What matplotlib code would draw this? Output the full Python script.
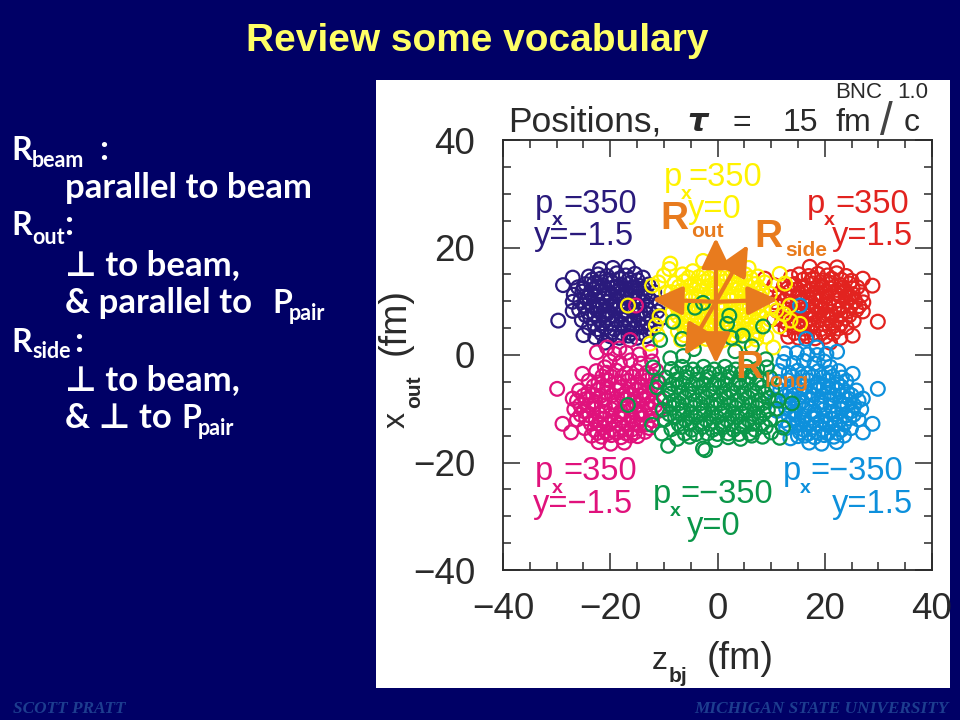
import matplotlib
matplotlib.use("Agg")
import matplotlib.pyplot as plt
from matplotlib.patches import Rectangle

W, H = 960, 720
NAVY_BG = "#000066"
INK = "#2a2a2a"
ORANGE = "#E87B1E"

c_navy, c_red, c_pink, c_cyan, c_yellow, c_green = "#2A1A7C", "#E2231F", "#E0127C", "#0D90DC", "#FFF200", "#0A9648"

navy_pts = [(-28.8,13),(-27,14.4),(-29.7,6.4),(-27,8.2),(-25,3.7),(-21.9,16),(-19.5,16.2),(-16.7,16.4),(-13.9,14.4),(-21,2.3),
 (-24,14.6),(-22.3,15),(-20.6,14.7),(-18.8,15.2),(-17.1,14.8),(-15.4,15.1),
 (-26,12.6),(-24.6,13.2),(-23,13.4),(-21.4,13),(-19.7,13.5),(-18,13.1),(-16.3,13.4),(-14.6,12.9),(-12.9,13.1),
 (-26.8,11.2),(-25.2,11.8),(-23.6,11.4),(-22,11.9),(-20.3,11.5),(-18.6,11.9),(-16.9,11.6),(-15.2,11.9),(-13.5,11.4),(-11.8,11.7),
 (-27,9.9),(-25.6,10.1),(-23.9,9.7),(-22.4,10.2),(-20.7,9.8),(-19,10.1),(-17.4,9.7),(-15.7,10.2),(-14,9.8),(-12.4,10.1),(-10.8,9.7),
 (-25.8,8.4),(-24.2,8),(-22.6,8.5),(-21,8.1),(-19.3,8.5),(-17.6,8.1),(-16,8.5),(-14.4,8),(-12.8,8.4),(-11.2,8.1),
 (-25.3,6.5),(-23.7,6.9),(-22.1,6.5),(-20.4,6.9),(-18.8,6.4),(-17.1,6.9),(-15.5,6.5),(-13.8,6.9),(-12.2,6.5),(-10.6,6.8),
 (-24,5.1),(-22.4,4.8),(-20.8,5.2),(-19.2,4.8),(-17.5,5.2),(-15.9,4.8),(-14.2,5.2),(-12.6,4.9),
 (-22.8,3.3),(-20,3.5),(-18.3,3.2),(-16.6,3.6),(-15,3.2),(-13.3,3.5),
 (-23,12.2),(-21.2,10.9),(-19.4,12.6),(-17.7,10.9),(-16,12.5),(-22,9),(-20,9.2),(-18.2,9),(-16.6,7.4),(-14.8,10.9),(-24,10.8),(-19.6,7.4),(-21.4,7.4),
 (-23.4,14),(-21.8,14.2),(-20,13.9),(-18.3,14.2),(-16.4,14.1),(-14.9,13.9),(-25,12.4),(-22.6,12.7),(-20.9,12.4),(-18.9,12.6),(-17.1,12.3),(-15.4,12.6),(-13.8,12.4),
 (-24.7,10.9),(-22.8,11),(-19.9,10.8),(-18.3,10.8),(-16.3,11),(-13,10.9),(-24.9,9.2),(-23.3,9.1),(-21.4,9.1),(-19.1,9.1),(-17,9),(-15,9.1),(-13.3,9.2),
 (-24.6,7.4),(-22.9,7.6),(-20.7,7.5),(-18,7.5),(-15,7.4),(-13.2,7.6),(-23,5.8),(-21.3,5.9),(-19.6,5.8),(-17.9,5.9),(-16.3,5.7),(-14.8,5.9),(-13.1,5.8),
 (-21.6,4),(-19.7,4.2),(-17.9,4.1),(-16.2,4.1),(-14.4,4.1)]

red_pts = [(27.1,14.2),(28.9,12.9),(29.9,6.2),(27.1,8.1),(25.2,3.6),(17.2,16.4),(19.8,16),(22.3,16.3),(13.7,14.5),(21,2.3),(8.8,14.2),
 (15.2,15),(17,14.7),(18.7,15.1),(20.5,14.8),(22.2,15.2),(24,14.7),
 (10.6,13),(12.4,12.9),(14.3,13.2),(16,12.8),(17.8,13.3),(19.5,12.9),(21.2,13.4),(23,13),(24.6,13.3),(26.1,12.6),
 (11.6,11.5),(13.4,11.8),(15.1,11.4),(16.8,11.9),(18.5,11.5),(20.2,11.9),(22,11.5),(23.7,11.9),(25.3,11.3),(26.9,11.1),
 (10.7,9.8),(12.5,10.2),(14,9.7),(15.8,10.2),(17.5,9.8),(19.1,10.2),(20.8,9.7),(22.5,10.2),(24.1,9.8),(25.7,10),(27.2,9.8),
 (11.1,8.2),(12.9,8.5),(14.5,8.1),(16.1,8.5),(17.7,8),(19.4,8.4),(21.1,8),(22.7,8.5),(24.3,8.1),(25.9,8.4),
 (10.5,6.7),(12.1,6.4),(13.9,6.9),(15.4,6.4),(17.2,6.8),(18.9,6.4),(20.5,6.9),(22.2,6.4),(23.8,6.8),(25.4,6.4),
 (12.7,4.8),(14.3,5.2),(16,4.9),(17.6,5.3),(19.3,4.8),(20.9,5.2),(22.5,4.9),(24.1,5.1),
 (13.2,3.4),(15.1,3.2),(16.7,3.5),(18.2,3.1),(20.1,3.4),(22.9,3.2),
 (15,12.2),(16.9,10.8),(18.6,12.5),(20.4,10.9),(22.3,12.1),(14.7,7.4),(16.5,7.3),(18.3,9),(20.2,9.1),(21.9,9),(23.9,10.9),(19.7,7.4),(21.3,7.3),
 (15.9,14),(17.8,14.2),(19.6,13.9),(21.3,14.2),(23.1,14),(25,13.8),(13.1,12.4),(16.1,12.5),(17.4,12.2),(19.4,12.6),(21,12.4),(23.4,12.5),(25.2,12.4),
 (13,10.9),(15.2,10.8),(18.4,10.7),(19.6,10.9),(22.7,11),(24.8,10.8),(13.2,9.1),(15,9.2),(16.9,9.1),(19.2,9),(23.3,9.1),(24.9,9.2),(26.4,9.1),
 (13.2,7.6),(15.3,7.5),(18.1,7.5),(20.6,7.5),(22.9,7.6),(24.6,7.4),(13.1,5.8),(14.8,5.9),(16.3,5.7),(17.9,5.9),(19.6,5.8),(21.3,5.9),(23,5.8),
 (14.4,4.1),(16.2,4.1),(17.9,4.1),(19.7,4.2),(21.6,4)]

pink_pts = [(-29.9,-6.3),(-27,-8.1),(-25.2,-3.5),(-28.9,-12.8),(-27.3,-14.4),(-22.2,-16.2),(-19.9,-16.5),(-17.4,-16.3),(-13.5,-14.3),(-20.6,1.4),(-21,-2.3),(-22.5,0.5),(-18.3,1.2),(-16.3,2.8),
 (-19.2,0.2),(-17,0.4),(-14.6,0.1),(-12.5,0.6),(-20.1,-1.2),(-18.2,-1.5),(-16.2,-1),(-14.3,-1.6),(-12.2,-1.2),
 (-22.6,-3),(-20.7,-3.3),(-18.9,-2.9),(-17,-3.4),(-15.1,-3),(-13.2,-3.3),(-11.4,-2.9),
 (-24,-4.8),(-22.2,-5.1),(-20.4,-4.7),(-18.6,-5.2),(-16.7,-4.8),(-14.9,-5.1),(-13,-4.7),(-11.2,-5),
 (-25.8,-6.6),(-24.1,-6.9),(-22.3,-6.5),(-20.6,-7),(-18.8,-6.6),(-17,-6.9),(-15.2,-6.5),(-13.4,-6.9),(-11.6,-6.5),
 (-26.2,-8.5),(-24.5,-8.2),(-22.8,-8.7),(-21,-8.3),(-19.2,-8.7),(-17.5,-8.2),(-15.7,-8.6),(-14,-8.2),(-12.2,-8.6),(-10.6,-8.3),
 (-26.7,-10.1),(-25,-10.4),(-23.2,-10),(-21.5,-10.5),(-19.8,-10.1),(-18,-10.5),(-16.2,-10.1),(-14.5,-10.5),(-12.7,-10),(-11,-10.4),
 (-26.2,-12),(-24.5,-11.8),(-22.7,-12.2),(-21,-11.8),(-19.2,-12.2),(-17.5,-11.7),(-15.7,-12.1),(-14,-11.8),(-12.2,-12.2),
 (-24.8,-13.6),(-23,-13.9),(-21.3,-13.5),(-19.5,-13.9),(-17.8,-13.5),(-16,-13.9),(-14.6,-13.1),(-12.7,-13.6),
 (-23.5,-15),(-21.6,-15.2),(-19.8,-14.9),(-18,-15.3),(-16.2,-15),(-14.9,-15.1),
 (-23,-9.3),(-21,-9.5),(-19,-9.4),(-17,-9.5),(-15,-9.3),(-22,-11),(-20,-11.2),(-18,-11.1),(-16,-11.3),(-20.5,-6),(-18,-6),(-21.8,-13),
 (-21.5,-4),(-19.8,-4),(-17.8,-4.1),(-15.9,-4),(-14,-4.1),(-12.1,-4),(-23.1,-5.8),(-21.3,-5.9),(-16,-5.8),(-14.1,-5.9),(-12.2,-5.8),
 (-25,-7.6),(-23.2,-7.5),(-21.8,-7.6),(-19.7,-7.5),(-17.9,-7.6),(-16.2,-7.5),(-14.3,-7.6),(-12.7,-7.5),(-25.6,-9.3),(-24.1,-9.4),(-13.2,-9.3),(-11.6,-9.4),
 (-25.5,-11.1),(-23.9,-11.2),(-14.3,-11.1),(-12.4,-11.2),(-23.6,-12.8),(-22,-12.8),(-20.2,-12.9),(-18.4,-12.8),(-16.6,-12.9),(-15,-12.8),(-13.2,-12.9),
 (-22.4,-14.5),(-20.6,-14.6),(-18.8,-14.5),(-17,-14.6),(-15.4,-14.4)]

cyan_pts = [(29.9,-6.3),(27.1,-8.1),(25.2,-3.5),(28.9,-12.8),(27.1,-14.4),(17.1,-16.3),(19.4,-16.5),(22.2,-16.2),(21,-2.2),(20.3,0.2),(16.5,3),(15.4,9.2),(18.5,1.4),(22.3,0.6),(13.6,-15.5),
 (12.6,0.3),(14.8,0.4),(16.8,0.1),(18.6,0),(12.3,-1.3),(14.2,-1.5),(16.1,-1.1),(18.1,-1.6),(19.9,-1.2),
 (11.5,-3),(13.3,-3.3),(15,-2.9),(16.9,-3.4),(18.8,-3),(20.8,-3.3),(22.6,-3),
 (11.3,-5),(13.1,-4.7),(15,-5.1),(16.8,-4.7),(18.7,-5.2),(20.5,-4.8),(22.3,-5.1),(24,-4.8),
 (11.7,-6.6),(13.5,-6.9),(15.3,-6.5),(17.1,-6.9),(18.9,-6.5),(20.7,-7),(22.4,-6.5),(24.2,-6.9),(25.9,-6.6),
 (10.7,-8.3),(12.3,-8.6),(14.1,-8.2),(15.8,-8.6),(17.6,-8.2),(19.3,-8.7),(21.1,-8.3),(22.9,-8.7),(24.6,-8.2),(26.3,-8.5),
 (11.1,-10.4),(12.8,-10),(14.6,-10.5),(16.3,-10.1),(18.1,-10.5),(19.9,-10.1),(21.6,-10.5),(23.3,-10),(25.1,-10.4),(26.8,-10.1),
 (12.3,-12.2),(14.1,-11.8),(15.8,-12.1),(17.6,-11.7),(19.3,-12.2),(21.1,-11.8),(22.8,-12.2),(24.6,-11.8),(26.3,-12),
 (12.8,-13.6),(14.7,-13.1),(16.1,-13.9),(17.9,-13.5),(19.6,-13.9),(21.4,-13.5),(23.1,-13.9),(24.9,-13.6),
 (15,-15.1),(16.3,-15),(18.1,-15.3),(19.9,-14.9),(21.7,-15.2),(23.6,-15),
 (15.1,-9.3),(17.1,-9.5),(19.1,-9.4),(21.1,-9.5),(23.1,-9.3),(16.1,-11.3),(18.1,-11.1),(20.1,-11.2),(22.1,-11),(18.1,-6),(20.6,-6),(21.9,-13),
 (14,-4),(15.9,-4.1),(17.8,-4),(19.7,-4.1),(21.5,-4),(23.2,-4.2),(14.1,-5.9),(16.2,-5.8),(19.8,-5.9),(21.4,-5.8),(23.1,-5.9),
 (12.7,-7.6),(14.3,-7.5),(16.3,-7.6),(17.9,-7.5),(19.8,-7.6),(21.8,-7.5),(23.3,-7.6),(25,-7.5),(13.3,-9.4),(24.2,-9.3),(25.5,-9.4),
 (13.2,-11.2),(14.4,-11.1),(23.9,-11.2),(25.4,-11.1),(13.3,-12.9),(15,-12.8),(16.6,-12.9),(18.4,-12.8),(20.2,-12.9),(22,-12.8),(23.6,-12.9),
 (15.4,-14.4),(17,-14.6),(18.8,-14.5),(20.6,-14.6),(22.4,-14.5)]

yellow_pts = [(-16.7,9.2),(-8.8,17),(-9,16),(-2.7,17.5),(-12.2,12.9),(-11,13.5),(-11.5,5.5),(-12.6,2.1),(-11.2,3.8),(-10.8,7.2),(-9.6,11.6),(-10,14.8),
 (11.6,15.1),(12.6,13.3),(11,8.3),(11.6,5.3),(15.4,5.8),(13.5,9.2),(10.4,1.4),(12.4,7.6),(13.6,6.4),(9.8,6.6),(10,9),
 (-6.5,15),(-4.6,15.6),(-2.6,15.1),(-0.6,15.6),(1.4,15.1),(3.4,15.6),(5.2,15),(7.5,14.6),(5.8,16.2),
 (-8,13.4),(-6.2,13.7),(-4.3,13.2),(-2.4,13.7),(-0.5,13.2),(1.4,13.7),(3.3,13.2),(5.2,13.7),(7,13.2),(8.8,13.5),
 (-8.6,11.7),(-6.9,11.9),(-5,11.4),(-3.1,11.9),(-1.2,11.4),(0.7,11.9),(2.6,11.4),(4.5,11.9),(6.4,11.4),(8.3,11.8),(9.8,11.4),
 (-8.8,10),(-7,9.7),(-5.1,10.2),(-3.2,9.7),(-1.3,10.2),(0.6,9.7),(2.5,10.2),(4.4,9.7),(6.3,10.2),(8.2,9.7),
 (-8.4,8),(-6.6,8.4),(-4.7,7.9),(-2.8,8.4),(-0.9,7.9),(1,8.4),(2.9,7.9),(4.8,8.4),(6.7,7.9),(8.6,8.3),
 (-8,6.1),(-6.2,6.6),(-4.3,6.1),(-2.4,6.6),(-0.5,6.1),(1.4,6.6),(3.3,6.1),(5.2,6.6),(7.1,6.1),
 (-7.4,4.4),(-5.6,4.8),(-3.7,4.3),(-1.8,4.8),(0.1,4.3),(2,4.8),(3.9,4.3),(5.8,4.8),(7.6,4.3),(9.1,3.4),
 (-6.8,2.8),(-4.2,2.6),(-2.1,3),(0.9,2.7),(3,3),(5.1,2.6),(7.2,2.9),
 (-5,12.8),(-2,12.4),(1,12.6),(4,12.4),(-6,9),(-3,9),(0,9),(3,9),(6,9),(-5,5.4),(-2,5.4),(1,5.4),(4,5.4),(7,5.4),(-1,10.8),(2,10.8),(5,10.8),(-4,10.8),
 (-5.4,14.4),(-3.5,14.5),(-1.6,14.3),(0.5,14.4),(2.4,14.5),(4.3,14.4),(6.2,14.3),(-7.2,12.7),(-3.4,12.8),(-0.4,12.6),(2.6,12.7),(5.6,12.8),(7.6,12.5),
 (-7.8,10.9),(-6,10.9),(-2.5,10.8),(0.4,10.8),(3.6,10.9),(6.6,10.8),(8,10.8),(-7.6,9),(-4.5,9),(-1.5,9),(1.5,9),(4.6,9),(7.5,9),
 (-7.4,7.2),(-5.5,7.3),(-3.6,7.2),(-1.6,7.3),(0.3,7.2),(2.2,7.2),(4,7.3),(5.8,7.2),(7.8,7.2),(-6.5,5.5),(-3.5,5.5),(-0.5,5.3),(2.5,5.5),(5.7,5.5),
 (-6.2,3.7),(-4.4,3.6),(-2.8,3.7),(-0.8,3.6),(1.2,3.6),(3,3.7),(4.9,3.7),(6.6,3.6)]

green_pts = [(-4.2,8.8),(-2.7,9.7),(2.2,7.3),(1.8,5.8),(4.7,3.6),(-6.6,3),(8.5,5.3),(-8.3,6.2),(-10.7,2.8),
 (-12,-2.3),(-11.3,-6),(-16.7,-9.3),(-12.2,-13),(-9.2,-16.9),(-2.7,-17.4),(13.9,-9),(11.3,-8.5),(12.2,-13.5),(11.6,-15.4),(-2.3,-17.7),(6.4,-15),
 (-11,-5),(-10.4,-14.6),(-7.5,-15.6),(-5.2,-15.2),(-0.4,-15.8),(2,-15.3),(4.3,-15.6),(8.4,-15.2),(10,-14.4),(9,-0.8),(6.4,1.6),(3.3,0.7),(2.6,3.2),(-4.4,1.1),(-8.8,-0.6),(-6.4,-0.2),
 (-8.6,-2.6),(-6.6,-2.2),(-4.6,-2.7),(-2.6,-2.2),(-0.6,-2.7),(1.4,-2.2),(3.4,-2.7),(5.4,-2.2),(7.4,-2.6),(9.2,-2.3),
 (-9.6,-4.2),(-7.7,-4.6),(-5.8,-4.1),(-3.8,-4.6),(-1.9,-4.1),(0.1,-4.6),(2,-4.1),(4,-4.6),(6,-4.1),(8,-4.6),(9.8,-4.2),
 (-9.2,-6.4),(-7.3,-6),(-5.4,-6.5),(-3.4,-6),(-1.5,-6.5),(0.5,-6),(2.4,-6.5),(4.4,-6),(6.4,-6.5),(8.4,-6),(10.2,-6.4),
 (-10,-8),(-8,-8.4),(-6.1,-7.9),(-4.1,-8.4),(-2.2,-7.9),(-0.2,-8.4),(1.7,-7.9),(3.7,-8.4),(5.7,-7.9),(7.7,-8.4),(9.5,-8),
 (-10.2,-10.2),(-8.3,-9.8),(-6.4,-10.3),(-4.4,-9.8),(-2.5,-10.3),(-0.5,-9.8),(1.4,-10.3),(3.4,-9.8),(5.4,-10.3),(7.4,-9.8),(9.4,-10.2),(11,-10),
 (-9.8,-12),(-7.9,-11.6),(-6,-12.1),(-4,-11.6),(-2.1,-12.1),(-0.1,-11.6),(1.8,-12.1),(3.8,-11.6),(5.8,-12.1),(7.8,-11.6),(9.8,-12),
 (-8.6,-13.8),(-6.7,-13.4),(-4.8,-13.9),(-2.8,-13.4),(-0.9,-13.9),(1.1,-13.4),(3,-13.9),(5,-13.4),(7,-13.9),(9,-13.4),
 (-7.6,-3.4),(-5.7,-3.3),(-3.7,-3.5),(-1.6,-3.3),(0.4,-3.5),(2.4,-3.3),(4.5,-3.4),(6.6,-3.3),(-8.4,-5.4),(-6.5,-5.2),(-4.6,-5.4),(-2.6,-5.3),(-0.6,-5.4),(1.4,-5.3),(3.4,-5.4),(5.4,-5.3),(7.3,-5.3),
 (-8.7,-7.2),(-6.8,-7.1),(-4.7,-7.2),(-2.8,-7.2),(-0.8,-7.1),(1.2,-7.2),(3,-7.1),(5,-7.2),(7,-7.1),(8.9,-7.2),(-9,-9.1),(-7.2,-9),(-5.1,-9.1),(-3.2,-9),(-1.2,-9.1),(0.6,-9),(2.5,-9.1),(4.6,-9),(6.4,-9.1),(8.4,-9),
 (-9,-11),(-7.1,-10.9),(-5,-11),(-3.2,-10.9),(-1.1,-11),(0.8,-10.9),(2.8,-11),(4.6,-10.9),(6.7,-11),(8.6,-10.9),(-7.2,-12.9),(-5.2,-12.8),(-3.2,-12.9),(-1.3,-12.8),(0.8,-12.9),(2.6,-12.8),(4.5,-12.9),(6.5,-12.8),(8.4,-12.8),
 (-6.1,-14.6),(-4,-14.7),(-1.9,-14.6),(0,-14.7),(2,-14.6),(4,-14.7),(6,-14.6)]

series = [(navy_pts, c_navy), (red_pts, c_red), (pink_pts, c_pink), (cyan_pts, c_cyan),
          (yellow_pts, c_yellow), (green_pts, c_green)]
# the few rings of one colour that lie inside a neighbouring cluster
pink_stray_x, pink_stray_y = [-15.2], [9.2]

# arrows in data units: centre, then tips
arrow_centre = (-0.3, 9.9)
arrow_tips = [(-0.3, 21.8), (-0.3, -1.6), (-12.2, 10.3), (11.3, 10.3), (5.7, 20.5), (-6.1, -0.1)]

major_ticks = [-40, -20, 0, 20, 40]
minor_ticks = [v for v in range(-40, 41, 5) if v % 20]
tick_names = ["\u221240", "\u221220", "0", "20", "40"]

plt.rcParams["font.family"] = ["Liberation Sans", "DejaVu Sans"]
fig = plt.figure(figsize=(W / 100, H / 100), dpi=100, facecolor=NAVY_BG)
fig.patches.append(Rectangle((376 / W, 1 - 688 / H), 574 / W, 608 / H, transform=fig.transFigure,
                             facecolor="white", edgecolor="none", zorder=-5))

ax = fig.add_axes([503 / W, 1 - 570 / H, 429 / W, 430 / H], facecolor="none")
ax.set_xlim(-40, 40)
ax.set_ylim(-40, 40)
ax.set_xticks(major_ticks, tick_names)
ax.set_yticks(major_ticks, tick_names)
ax.set_xticks(minor_ticks, minor=True)
ax.set_yticks(minor_ticks, minor=True)
ax.tick_params(which="major", direction="in", length=12.5, width=1.1, color=INK, top=True, right=True,
               labelsize=26.5, labelcolor=INK)
ax.tick_params(which="minor", direction="in", length=6, width=1.1, color=INK, top=True, right=True)
ax.tick_params(axis="x", which="major", pad=16)
ax.tick_params(axis="y", which="major", pad=20)
for s in ax.spines.values():
    s.set_linewidth(1.3)
    s.set_color(INK)

z = 3
for pts, col in series:
    ax.scatter([p[0] for p in pts], [p[1] for p in pts], s=98, facecolors="none", edgecolors=col,
               linewidths=1.6, zorder=z)
    z += 1
    if col == c_pink:
        ax.scatter(pink_stray_x, pink_stray_y, s=98, facecolors="none", edgecolors=col, linewidths=1.6, zorder=z)

for tip in arrow_tips:
    ax.annotate("", xy=tip, xytext=arrow_centre, zorder=20,
                arrowprops=dict(arrowstyle="-|>,head_length=1.15,head_width=0.55", color=ORANGE, lw=3,
                                shrinkA=0, shrinkB=0, mutation_scale=16))


def T(px, py, s, **kw):
    kw.setdefault("va", "baseline")
    kw.setdefault("ha", "left")
    kw.setdefault("zorder", 30)
    return fig.text(px / W, 1 - py / H, s, **kw)


# slide title
T(477, 51, "Review some vocabulary", color="#FFFF66", fontsize=28, fontweight="bold", ha="center")

# left hand text
LEFT = ["Lato", "DejaVu Sans"]
lk = dict(color="white", family=LEFT, fontweight="bold", fontsize=25)
rk_left = dict(color="white", family=LEFT, fontweight="bold", fontsize=23)
sk = dict(color="white", family=LEFT, fontweight="bold", fontsize=15.5)
T(11, 160, "R", **rk_left); T(32, 167, "beam", **sk); T(99, 160, ":", **lk)
T(65, 198, "parallel to beam", **lk)
T(11, 235, "R", **rk_left); T(32, 244, "out", **sk); T(64, 235, ":", **lk)
T(65, 275, "\u22a5 to beam,", **lk)
T(65, 313, "& parallel to", **lk); T(272, 313, "P", **rk_left); T(289, 320, "pair", **sk)
T(11, 352, "R", **rk_left); T(32, 358, "side", **sk); T(74, 352, ":", **lk)
T(65, 390, "\u22a5 to beam,", **lk)
T(65, 428, "& \u22a5 to", **lk); T(181, 428, "P", **rk_left); T(198, 435, "pair", **sk)

# footer
fk = dict(color="#1D3D8F", family="Liberation Serif", fontweight="bold", fontstyle="italic", fontsize=12.4)
T(13, 713, "SCOTT PRATT", **fk)
T(948, 713, "MICHIGAN STATE UNIVERSITY", ha="right", **fk)

# plot header
hk = dict(color=INK, fontsize=23)
T(508, 131, "Positions,", color=INK, fontsize=25.5)
T(687, 131, "\u03c4", color=INK, fontsize=23, fontstyle="italic", fontweight="bold", family="DejaVu Sans")
T(733, 131, "=", **hk)
T(783, 131, "15", **hk)
T(835, 131, "fm", **hk)
T(880, 135, "/", color="#444444", fontsize=33)
T(904, 131, "c", **hk)
T(835, 98, "BNC", color=INK, fontsize=16)
T(928, 98, "1.0", color=INK, fontsize=16, ha="right")

# axis titles
T(652, 669, "z", color=INK, fontsize=23)
T(669, 682, "bj", color=INK, fontsize=15, fontweight="bold")
T(707, 669, "(fm)", color=INK, fontsize=27)
rk = dict(rotation=90, rotation_mode="anchor", ha="left")
T(405, 428, "x", color=INK, fontsize=23, **rk)
T(420, 408, "out", color=INK, fontsize=15, fontweight="bold", **rk)
T(405, 355, "(fm)", color=INK, fontsize=27, **rk)

# series labels
lab = dict(fontsize=23.5)


def series_label(col, p_x, base, sub_x, sub_y, eq_x, eq, y_x, y_base, y_txt):
    T(p_x, base, "p", color=col, **lab)
    T(sub_x, sub_y, "x", color=col, fontsize=14, fontweight="bold")
    T(eq_x, base, eq, color=col, **lab)
    T(y_x, y_base, y_txt, color=col, **lab)


series_label(c_yellow, 664, 186, 681, 199, 688, "=350", 688, 218, "y=0")
series_label(c_navy, 535, 213, 552, 225, 563, "=350", 534, 245, "y=\u22121.5")
series_label(c_red, 807, 213, 824, 225, 835, "=350", 832, 245, "y=1.5")
series_label(c_pink, 535, 480, 552, 493, 563, "=350", 533, 513, "y=\u22121.5")
series_label(c_green, 653, 503, 670, 516, 680, "=\u2212350", 687, 535, "y=0")
series_label(c_cyan, 783, 480, 800, 493, 810, "=\u2212350", 832, 513, "y=1.5")

# radius names
big = dict(color=ORANGE, fontsize=28, fontweight="bold")
small = dict(color=ORANGE, fontsize=15, fontweight="bold")
T(660, 229, "R", **big); T(691, 237, "out", **small)
T(754, 247, "R", **big); T(785, 256, "side", **small)
T(735, 378, "R", **big); T(765, 387, "long", **small)

fig.savefig("out.png", dpi=100, facecolor=NAVY_BG)
